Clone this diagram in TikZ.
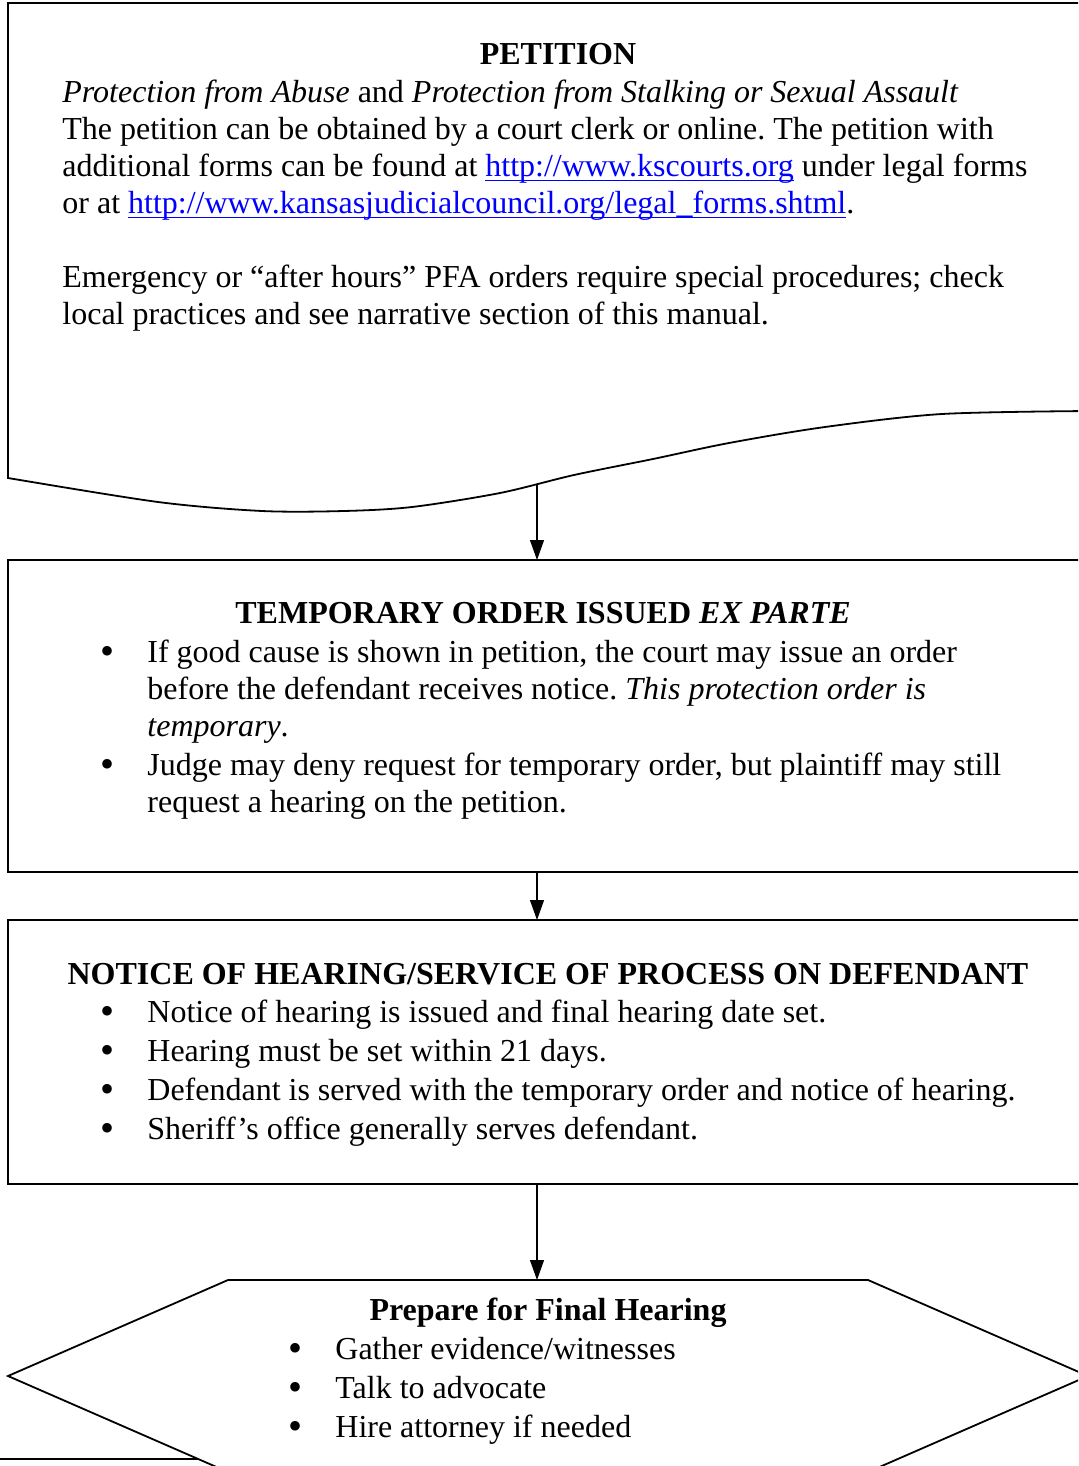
\documentclass[tikz,border=0pt]{standalone}
\usepackage{fontspec}
\setmainfont{Liberation Serif}
\usetikzlibrary{arrows.meta}

\definecolor{linkblue}{RGB}{0,0,255}
\newcommand{\bodysize}{\fontsize{16pt}{18.5pt}\selectfont\frenchspacing}
\newcommand{\headsize}{\fontsize{16pt}{18.5pt}\selectfont\bfseries}
\newcommand{\weblink}[1]{\textcolor{linkblue}{\setbox0\hbox{#1}\rlap{\rule[-2pt]{\wd0}{0.6pt}}\box0}}
\newcommand{\bigbullet}{\hspace{-2.5pt}\smash{\raisebox{-0.08em}{\scalebox{1.25}{\textbullet}}}}
\newcommand{\bulitem}[1]{\noindent\hangindent=21pt\hangafter=1\makebox[21pt][l]{\bigbullet}#1\par\vspace{1pt}}

\tikzset{
  frame/.style={line width=0.9pt},
  heading/.style={font=\headsize, anchor=base, inner sep=0pt},
  bodytext/.style={anchor=base west, inner sep=0pt, text width=520pt,
    execute at begin node={\spaceskip=0.25em plus 0.1em minus 0.05em\relax}},
  flow/.style={line width=0.6pt, -{Triangle[length=10pt,width=7pt]}}
}

\begin{document}
\begin{tikzpicture}[x=0.5pt, y=-0.5pt, font=\bodysize]
    \useasboundingbox (0,0) rectangle (1078,1466);
    \clip (0,0) rectangle (1078,1466);

    % petition
    \draw[frame] (1090,3) -- (8,3) -- plot[smooth, tension=0.5] coordinates {(8,478) (158,502) (262,511) (344,511) (412,507) (500,493) (574,475) (653,459) (729,443) (825,427) (942,414) (1090,411)};
    \coordinate (petout) at (537,485);
    \node[heading] (pettitle) at (558,65) {PETITION};
    \node[bodytext] (petinfo) at (62,103) {\textit{Protection from Abuse} and \textit{Protection from Stalking or Sexual Assault}\newline
        The petition can be obtained by a court clerk or online. The petition with\newline
        additional forms can be found at \weblink{http://www.kscourts.org} under legal forms\newline
        or at \weblink{http://www.kansasjudicialcouncil.org/legal\_forms.shtml}.};
    \node[bodytext] (petnote) at (62,287) {Emergency or “after hours” PFA orders require special procedures; check\newline
        local practices and see narrative section of this manual.};

    % temporary order
    \draw[frame] (1090,560) -- (8,560) -- (8,872) -- (1090,872);
    \coordinate (tmpin) at (537,560);
    \coordinate (tmpout) at (537,872);
    \node[heading] (tmptitle) at (543,623) {TEMPORARY ORDER ISSUED \textit{EX PARTE}};
    \node[bodytext] (tmplist) at (105,662) {%
        \bulitem{If good cause is shown in petition, the court may issue an order\newline
            before the defendant receives notice. \textit{This protection order is}\newline
            \textit{temporary}.}
        \bulitem{Judge may deny request for temporary order, but plaintiff may still\newline
            request a hearing on the petition.}};

    % notice of hearing
    \draw[frame] (1090,920) -- (8,920) -- (8,1184) -- (1090,1184);
    \coordinate (notin) at (537,920);
    \coordinate (notout) at (537,1184);
    \node[heading] (nottitle) at (548,984) {NOTICE OF HEARING/SERVICE OF PROCESS ON DEFENDANT};
    \node[bodytext] (notlist) at (105,1022) {%
        \bulitem{Notice of hearing is issued and final hearing date set.}
        \bulitem{Hearing must be set within 21 days.}
        \bulitem{Defendant is served with the temporary order and notice of hearing.}
        \bulitem{Sheriff’s office generally serves defendant.}};

    % final hearing
    \coordinate (nextbox) at (0,1459);
    \draw[frame] (nextbox) -- (198,1459);
    \draw[frame, fill=white] (228,1280) -- (868,1280) -- (1088,1376) -- (868,1472) -- (228,1472) -- (8,1376) -- cycle;
    \coordinate (prepin) at (537,1280);
    \node[heading] (preptitle) at (548,1320) {Prepare for Final Hearing};
    \node[bodytext] (preplist) at (293,1359) {%
        \bulitem{Gather evidence/witnesses}
        \bulitem{Talk to advocate}
        \bulitem{Hire attorney if needed}};

    \draw[flow] (petout) -- (tmpin);
    \draw[flow] (tmpout) -- (notin);
    \draw[flow] (notout) -- (prepin);
\end{tikzpicture}
\end{document}
